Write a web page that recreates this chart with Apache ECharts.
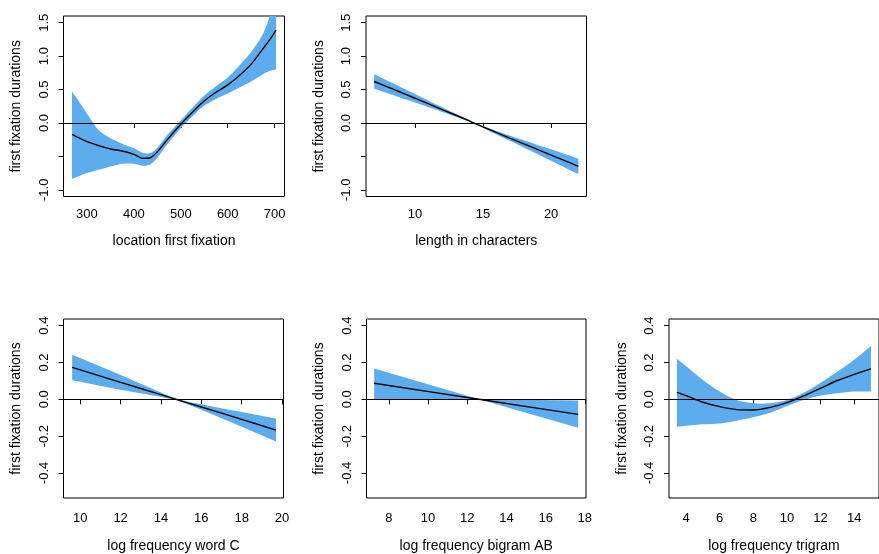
<!DOCTYPE html>
<html>
<head>
<meta charset="utf-8">
<script src="https://cdn.jsdelivr.net/npm/echarts@6/dist/echarts.min.js"></script>
<style>
  html, body { margin: 0; padding: 0; background: #fff; }
  #chart { width: 879px; height: 554px; }
</style>
</head>
<body>
<div id="chart"></div>
<script>
// panel 1 - location first fixation
var locX     = [268, 285, 300, 325, 350, 375, 400, 420, 435, 450, 470, 500, 525, 550, 575, 600, 625, 650, 675, 690, 703];
var locFit   = [-0.17, -0.23, -0.28, -0.34, -0.39, -0.42, -0.47, -0.53, -0.52, -0.43, -0.26, -0.02, 0.16, 0.33, 0.46, 0.57, 0.71, 0.88, 1.11, 1.25, 1.39];
var locUpper = [0.47, 0.30, 0.14, -0.11, -0.23, -0.31, -0.38, -0.45, -0.45, -0.37, -0.19, 0.04, 0.23, 0.41, 0.55, 0.68, 0.86, 1.06, 1.33, 1.60, 1.85];
var locLower = [-0.84, -0.79, -0.75, -0.70, -0.65, -0.61, -0.61, -0.64, -0.62, -0.52, -0.33, -0.08, 0.10, 0.26, 0.36, 0.44, 0.53, 0.62, 0.73, 0.78, 0.80];

// panel 2 - length in characters
var lenX     = [7, 10, 12, 14, 14.3, 15, 17, 20, 22];
var lenFit   = [0.62, 0.37, 0.20, 0.03, 0.0, -0.06, -0.23, -0.48, -0.65];
var lenUpper = [0.73, 0.435, 0.235, 0.04, 0.005, -0.045, -0.19, -0.395, -0.535];
var lenLower = [0.51, 0.305, 0.165, 0.02, -0.005, -0.075, -0.27, -0.565, -0.765];

// panel 3 - log frequency word C
var wcX     = [9.6, 12, 14, 14.8, 16, 18, 19.7];
var wcFit   = [0.173, 0.092, 0.025, -0.002, -0.042, -0.109, -0.167];
var wcUpper = [0.242, 0.132, 0.037, 0.002, -0.027, -0.069, -0.105];
var wcLower = [0.104, 0.052, 0.013, -0.006, -0.057, -0.149, -0.229];

// panel 4 - log frequency bigram AB
var bgX     = [7.25, 12.6, 17.66];
var bgFit   = [0.087, 0.0, -0.082];
var bgUpper = [0.167, 0.0, -0.007];
var bgLower = [0.0, 0.0, -0.155];

// panel 5 - log frequency trigram
var trX     = [3.45, 4, 5, 6, 7, 8, 9, 10, 11, 12, 13, 14, 15];
var trFit   = [0.038, 0.02, -0.016, -0.04, -0.056, -0.058, -0.044, -0.018, 0.018, 0.06, 0.102, 0.135, 0.165];
var trUpper = [0.22, 0.18, 0.105, 0.042, -0.004, -0.022, -0.022, -0.004, 0.036, 0.09, 0.15, 0.215, 0.29];
var trLower = [-0.149, -0.144, -0.136, -0.131, -0.116, -0.098, -0.073, -0.036, -0.004, 0.02, 0.033, 0.042, 0.042];

// tick values
var yTicksTop    = [-1, -0.5, 0, 0.5, 1, 1.5];
var yLabelsTop   = [-1, 0, 0.5, 1, 1.5];   // R dropped the -0.5 label
var yTicksBottom = [-0.4, -0.2, 0, 0.2, 0.4];
var locTicks = [300, 400, 500, 600, 700];
var lenTicks = [10, 15, 20];
var wcTicks  = [10, 12, 14, 16, 18, 20];
var bgTicks  = [8, 10, 12, 14, 16, 18];
var trTicks  = [4, 6, 8, 10, 12, 14];

var yName = 'first fixation durations';
var font = "'Liberation Sans', Arial, Helvetica, sans-serif";

var panels = [
  {name: 'location first fixation', x: locX, fit: locFit, up: locUpper, lo: locLower,
   xmin: 250, xmax: 721, xticks: locTicks, ymin: -1.1, ymax: 1.6, yticks: yTicksTop, ylabels: yLabelsTop,
   left: 63.5, top: 16, width: 221, height: 180.5, labGap: 11, nameGap: 38},
  {name: 'length in characters', x: lenX, fit: lenFit, up: lenUpper, lo: lenLower,
   xmin: 6.4, xmax: 22.6, xticks: lenTicks, ymin: -1.1, ymax: 1.6, yticks: yTicksTop, ylabels: yLabelsTop,
   left: 366, top: 16, width: 220.5, height: 180.5, labGap: 11, nameGap: 38},
  {name: 'log frequency word C', x: wcX, fit: wcFit, up: wcUpper, lo: wcLower,
   xmin: 9.17, xmax: 20.07, xticks: wcTicks, ymin: -0.536, ymax: 0.436, yticks: yTicksBottom, ylabels: yTicksBottom,
   left: 63.5, top: 319, width: 220, height: 180, labGap: 14, nameGap: 41},
  {name: 'log frequency bigram AB', x: bgX, fit: bgFit, up: bgUpper, lo: bgLower,
   xmin: 6.86, xmax: 18.06, xticks: bgTicks, ymin: -0.536, ymax: 0.436, yticks: yTicksBottom, ylabels: yTicksBottom,
   left: 366.5, top: 319, width: 219.5, height: 180, labGap: 14, nameGap: 41},
  {name: 'log frequency trigram', x: trX, fit: trFit, up: trUpper, lo: trLower,
   xmin: 2.98, xmax: 15.48, xticks: trTicks, ymin: -0.536, ymax: 0.436, yticks: yTicksBottom, ylabels: yTicksBottom,
   left: 669, top: 319, width: 220, height: 180, labGap: 14, nameGap: 41}
];

var grids = [], xAxes = [], yAxes = [], series = [];

panels.forEach(function (p, i) {
  grids.push({
    left: p.left, top: p.top, width: p.width, height: p.height,
    show: true, borderColor: '#000', borderWidth: 1, backgroundColor: 'transparent'
  });
  xAxes.push({
    gridIndex: i, type: 'value', min: p.xmin, max: p.xmax,
    name: p.name, nameLocation: 'middle', nameGap: p.nameGap,
    nameTextStyle: {color: '#000', fontSize: 14, fontFamily: font},
    axisLine: {show: false}, splitLine: {show: false},
    axisTick: {show: true, customValues: p.xticks, length: 5, lineStyle: {color: '#000'}},
    axisLabel: {customValues: p.xticks, margin: p.labGap, color: '#000', fontSize: 13, fontFamily: font,
      formatter: function (v) { return String(v); }}
  });
  yAxes.push({
    gridIndex: i, type: 'value', min: p.ymin, max: p.ymax,
    name: yName, nameLocation: 'middle', nameGap: 40, nameRotate: 90,
    nameTextStyle: {color: '#000', fontSize: 14, fontFamily: font},
    axisLine: {show: false}, splitLine: {show: false},
    axisTick: {show: true, customValues: p.yticks, length: 5, lineStyle: {color: '#000'}},
    axisLabel: {customValues: p.ylabels, rotate: 90, margin: 13, color: '#000', fontSize: 13, fontFamily: font,
      formatter: function (v) { return v.toFixed(1); }}
  });

  // confidence band: one smoothed polygon through the axis scales,
  // end corners doubled so they stay sharp
  series.push({
    type: 'custom', xAxisIndex: i, yAxisIndex: i, clip: true, silent: true, z: 1,
    data: p.x.map(function (x, k) { return [x, p.lo[k], p.up[k]]; }),
    encode: {x: 0, y: [1, 2]},
    renderItem: function (params, api) {
      if (params.dataIndex !== 0) return;
      var n = p.x.length;
      var pts = [];
      for (var k = 0; k < n; k++) {
        var c = api.coord([p.x[k], p.up[k]]);
        pts.push(c);
        if (k === 0 || k === n - 1) pts.push(c.slice());
      }
      for (var k2 = n - 1; k2 >= 0; k2--) {
        var d = api.coord([p.x[k2], p.lo[k2]]);
        pts.push(d);
        if (k2 === 0 || k2 === n - 1) pts.push(d.slice());
      }
      return {type: 'polygon', shape: {points: pts, smooth: n > 3 ? 0.3 : 0}, style: {fill: '#5CACEE', stroke: null}};
    }
  });

  series.push({
    type: 'line', xAxisIndex: i, yAxisIndex: i, z: 3, silent: true,
    data: p.x.map(function (x, k) { return [x, p.fit[k]]; }),
    symbol: 'none', smooth: 0.3,
    lineStyle: {color: '#000', width: 1.4},
    markLine: {
      silent: true, symbol: 'none', label: {show: false},
      lineStyle: {color: '#000', width: 1, type: 'solid'},
      data: [{yAxis: 0}]
    }
  });
});

var myChart = echarts.init(document.getElementById('chart'));
myChart.setOption({
  animation: false,
  grid: grids,
  xAxis: xAxes,
  yAxis: yAxes,
  series: series
});
</script>
</body>
</html>
